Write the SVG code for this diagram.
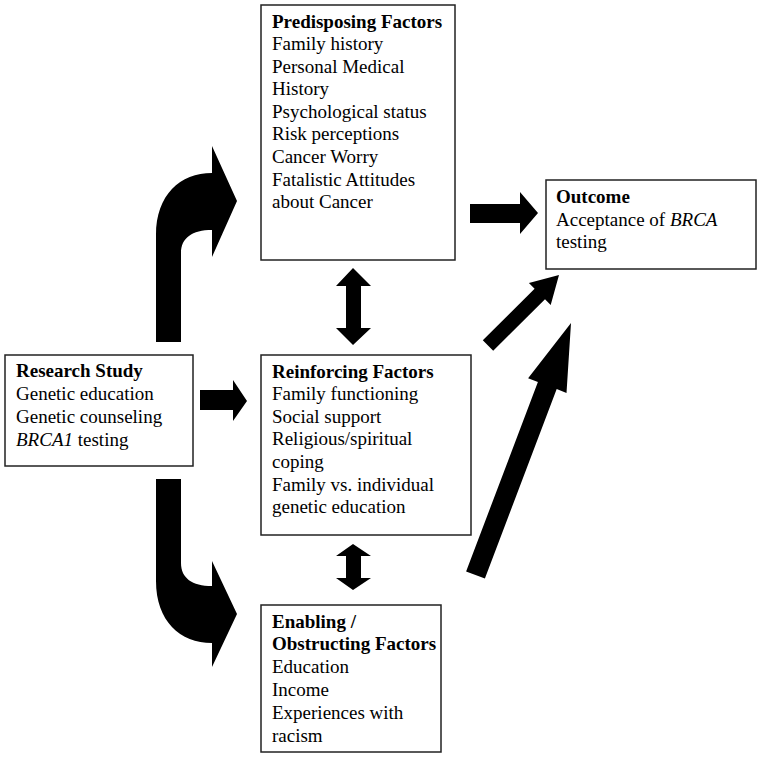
<svg xmlns="http://www.w3.org/2000/svg" width="769" height="763" viewBox="0 0 769 763">
<style>
.box{fill:#fff;stroke:#222;stroke-width:1.5}
text{font-family:"Liberation Serif","Times New Roman",serif;font-size:19px;fill:#000}
.b{font-weight:bold}
.i{font-style:italic}
.ar{fill:#000;stroke:none}
</style>
<rect width="769" height="763" fill="#fff"/>
<g id="connectors">
<path class="ar" d="M156,342 L156,235 C156,195 180,173 212,173 L212,146 L237,201 L212,257 L212,230 C192,230 181,238 181,253 L181,342 Z"/>
<path class="ar" d="M156,479 L156,581 C156,621 180,643 212,643 L212,667 L237,614 L212,561 L212,586 C192,586 181,578 181,563 L181,479 Z"/>
<polygon class="ar" points="470,204 520,204 520,192 538,213 520,234 520,223 470,223"/>
<polygon class="ar" points="200,390 233,390 233,380 247,401 233,421 233,410 200,410"/>
<polygon class="ar" points="353,268 371,286 361,286 361,328 371,328 353,345 336,328 346,328 346,286 336,286"/>
<polygon class="ar" points="353,544 371,556 361,556 361,578 371,578 353,590 336,578 346,578 346,556 336,556"/>
<polygon class="ar" points="482.8,340.2 534.6,288.7 528.9,283 559,275 550.7,305 545,299.3 493.2,350.8"/>
<polygon class="ar" points="466.1,571.5 537.9,382.1 528.1,378.3 571,323 566.5,392.9 556.7,389.1 484.9,578.5"/>
</g>
<g id="predisposing">
<rect class="box" x="261" y="5" width="194" height="255"/>
<text x="272" y="27.5" class="b">Predisposing Factors</text>
<text x="272" y="50">Family history</text>
<text x="272" y="72.6">Personal Medical</text>
<text x="272" y="95.2">History</text>
<text x="272" y="117.8">Psychological status</text>
<text x="272" y="140.4">Risk perceptions</text>
<text x="272" y="163">Cancer Worry</text>
<text x="272" y="185.6">Fatalistic Attitudes</text>
<text x="272" y="208.2">about Cancer</text>
</g>
<g id="outcome">
<rect class="box" x="546" y="180" width="210" height="89"/>
<text x="556" y="203" class="b">Outcome</text>
<text x="556" y="225.5">Acceptance of <tspan class="i">BRCA</tspan></text>
<text x="556" y="248">testing</text>
</g>
<g id="research">
<rect class="box" x="5" y="355" width="188" height="111"/>
<text x="16" y="376.5" class="b">Research Study</text>
<text x="16" y="399.5">Genetic education</text>
<text x="16" y="422.5">Genetic counseling</text>
<text x="16" y="445.5"><tspan class="i">BRCA1</tspan> testing</text>
</g>
<g id="reinforcing">
<rect class="box" x="261" y="355" width="210" height="180"/>
<text x="272" y="377.5" class="b">Reinforcing Factors</text>
<text x="272" y="400.1">Family functioning</text>
<text x="272" y="422.7">Social support</text>
<text x="272" y="445.3">Religious/spiritual</text>
<text x="272" y="467.9">coping</text>
<text x="272" y="490.5">Family vs. individual</text>
<text x="272" y="513.1">genetic education</text>
</g>
<g id="enabling">
<rect class="box" x="261" y="605" width="180" height="147"/>
<text x="272" y="627.5" class="b">Enabling /</text>
<text x="272" y="650.3" class="b">Obstructing Factors</text>
<text x="272" y="673.1">Education</text>
<text x="272" y="695.9">Income</text>
<text x="272" y="718.7">Experiences with</text>
<text x="272" y="741.5">racism</text>
</g>
</svg>
